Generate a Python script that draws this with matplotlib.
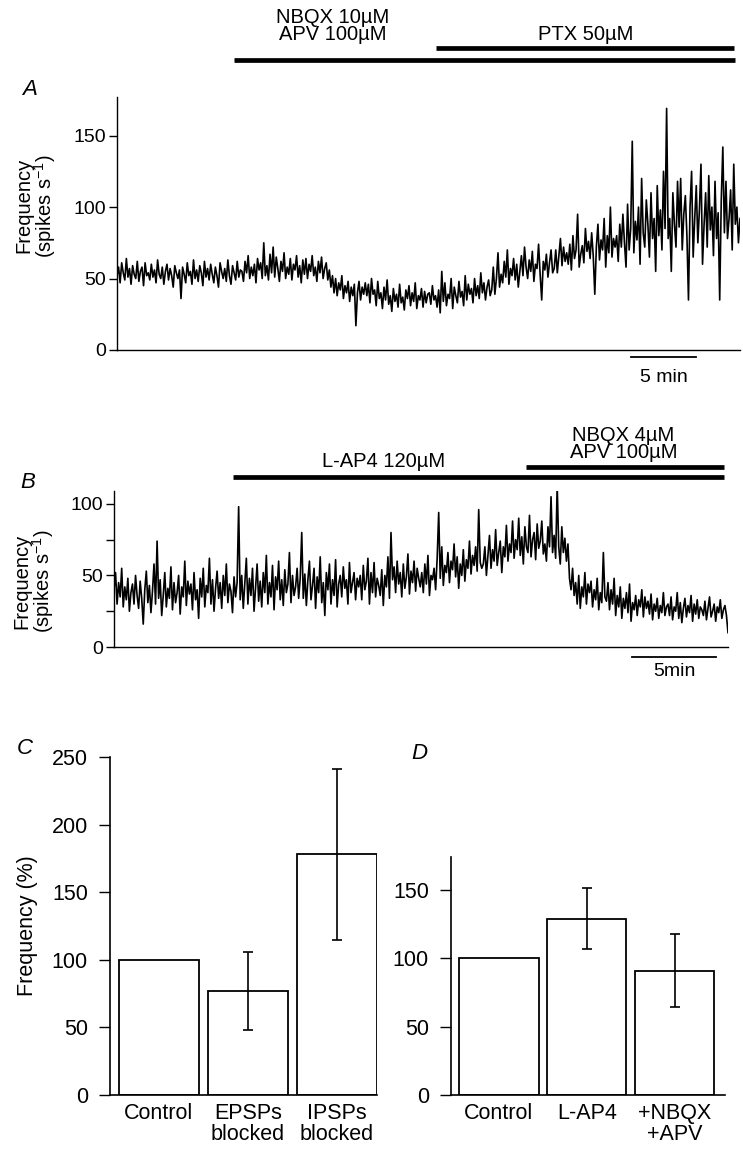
import numpy as np
import matplotlib
matplotlib.use("Agg")
import matplotlib.pyplot as plt

plt.rcParams['font.family'] = ['Liberation Sans', 'DejaVu Sans']
plt.rcParams['mathtext.fontset'] = 'custom'
plt.rcParams['mathtext.rm'] = 'Liberation Sans'
plt.rcParams['mathtext.it'] = 'Liberation Sans:italic'

# firing rate traces (spikes/s), one value per time bin
trace_a = [
    52, 58, 47, 61, 54, 49, 64, 51, 57, 46, 59, 53, 50, 62, 48, 55, 58, 45, 61, 52, 54, 49, 60, 51, 56, 47, 63, 53, 50, 58, 46, 55, 60, 49, 57, 52, 44, 59, 54, 50,
    56, 36, 58, 53, 47, 61, 52, 55, 46, 63, 50, 56, 48, 59, 54, 45, 62, 51, 57, 49, 60, 53, 47, 58, 52, 44, 61, 55, 50, 57, 48, 63, 52, 46, 59, 54, 49, 62, 51, 56,
    55, 48, 62, 54, 66, 50, 58, 52, 60, 47, 64, 56, 61, 50, 75, 52, 59, 49, 67, 54, 72, 51, 65, 57, 48, 62, 55, 68, 50, 58, 53, 64, 49, 60, 56, 66, 51, 59, 47, 63,
    53, 64, 50, 60, 55, 66, 52, 58, 48, 62, 54, 65, 50, 57, 61, 49, 56, 44, 52, 40, 50, 38, 47, 42, 52, 36, 45, 40, 48, 34, 44, 38, 46, 17, 40, 48, 35, 44, 39, 47,
    38, 46, 33, 50, 39, 42, 31, 48, 36, 40, 29, 44, 35, 49, 32, 38, 27, 43, 34, 39, 30, 46, 33, 37, 28, 42, 36, 45, 31, 40, 34, 47, 29, 38, 35, 43, 30, 41, 33, 39,
    40, 32, 45, 35, 38, 30, 42, 26, 55, 34, 47, 31, 39, 36, 50, 29, 44, 38, 33, 48, 37, 41, 31, 52, 35, 46, 39, 43, 33, 50, 38, 45, 36, 54, 40, 47, 35, 44, 49, 38,
    42, 58, 39, 50, 68, 44, 53, 47, 62, 51, 70, 46, 57, 52, 64, 49, 60, 44, 55, 66, 52, 72, 58, 50, 63, 55, 69, 48, 60, 57, 74, 53, 35, 62, 56, 67, 51, 61, 70, 54,
    57, 70, 54, 66, 78, 59, 72, 62, 68, 60, 74, 56, 80, 64, 70, 95, 58, 67, 73, 61, 85, 69, 76, 64, 82, 66, 39, 72, 88, 63, 77, 70, 92, 58, 80, 68, 100, 65, 78, 72,
    80, 62, 88, 72, 95, 75, 58, 102, 70, 85, 146, 68, 90, 77, 100, 60, 120, 82, 72, 105, 88, 65, 110, 78, 92, 55, 115, 80, 98, 70, 125, 85, 169, 78, 92, 55, 110, 88, 72, 118,
    86, 120, 70, 95, 108, 80, 35, 100, 125, 65, 92, 115, 75, 98, 130, 60, 88, 110, 72, 122, 84, 100, 66, 118, 78, 96, 35, 105, 142, 82, 118, 78, 92, 112, 70, 130, 88, 100, 75, 92,
]
trace_b = [
    40, 52, 30, 45, 35, 55, 28, 42, 33, 48, 25, 38, 44, 30, 50, 36, 27, 46, 34, 16, 40, 53, 31, 43, 24, 39, 58, 30, 74, 34, 47, 22, 36, 52, 28, 41, 34, 56, 26, 45,
    31, 38, 50, 23, 42, 35, 60, 29, 46, 37, 44, 26, 52, 33, 40, 20, 48, 35, 55, 28, 43, 38, 62, 30, 47, 25, 41, 53, 34, 45, 27, 50, 36, 58, 31, 44, 39, 24, 49, 35,
    45, 98, 33, 50, 27, 44, 62, 30, 48, 36, 55, 25, 41, 58, 32, 46, 28, 52, 38, 64, 30, 45, 35, 57, 26, 49, 40, 60, 33, 47, 29, 54, 38, 44, 66, 31, 50, 36, 42, 55,
    34, 48, 80, 34, 51, 29, 47, 60, 33, 43, 55, 27, 49, 38, 63, 31, 45, 22, 52, 40, 58, 30, 47, 36, 61, 28, 44, 50, 35, 56, 41, 47, 30, 59, 38, 45, 52, 33, 48, 42,
    50, 33, 57, 40, 46, 62, 30, 52, 38, 59, 35, 48, 43, 36, 54, 29, 50, 42, 63, 34, 80, 47, 56, 38, 60, 44, 52, 35, 58, 41, 49, 65, 37, 53, 45, 60, 39, 55, 48, 42,
    52, 38, 58, 44, 64, 36, 50, 47, 55, 40, 62, 94, 48, 70, 43, 57, 52, 66, 45, 60, 54, 72, 49, 63, 41, 58, 50, 68, 46, 61, 55, 74, 51, 64, 57, 70, 53, 96, 59, 55,
    58, 70, 50, 64, 78, 55, 68, 60, 82, 57, 66, 74, 52, 70, 63, 85, 60, 72, 66, 88, 62, 75, 68, 90, 64, 77, 58, 84, 70, 66, 92, 63, 75, 80, 61, 86, 69, 74, 88, 65,
    72, 60, 84, 70, 105, 66, 78, 62, 113, 70, 58, 84, 66, 76, 60, 72, 48, 40, 55, 36, 45, 30, 50, 27, 42, 35, 52, 30, 44, 38, 46, 28, 40, 33, 48, 26, 38, 31, 66, 35,
    32, 45, 26, 40, 30, 48, 22, 36, 28, 42, 20, 34, 27, 38, 24, 44, 18, 31, 26, 36, 22, 33, 28, 40, 21, 35, 27, 32, 23, 37, 19, 30, 25, 34, 20, 29, 24, 38, 22, 28,
    30, 22, 35, 19, 28, 25, 38, 20, 31, 17, 27, 34, 21, 29, 24, 36, 18, 30, 23, 33, 20, 28, 26, 22, 32, 19, 27, 35, 21, 25, 30, 18, 28, 24, 33, 20, 26, 29, 22, 10,
]
bin_a = 0.12  # min per bin
bin_b = 0.0915

# bar charts (% of control, mean and error)
cats_c = ["Control", "EPSPs\nblocked", "IPSPs\nblocked"]
vals_c = [100, 77, 178]
err_c = [0, 29, 63]
cats_d = ["Control", "L-AP4", "+NBQX\n+APV"]
vals_d = [100, 129, 91]
err_d = [0, 22, 27]

W, H = 743, 1155
fig = plt.figure(figsize=(W / 100, H / 100), dpi=100)


def box(l, r, t, b):
    return [l / W, 1 - b / H, (r - l) / W, (b - t) / H]


def trace_axes(ax):
    for s in ['top', 'right']:
        ax.spines[s].set_visible(False)
    ax.spines['left'].set_linewidth(1.0)
    ax.spines['bottom'].set_linewidth(1.0)
    ax.set_xticks([])
    ax.tick_params(axis='y', direction='out', length=6, width=1, labelsize=14, pad=2)
    ax.set_ylabel("Frequency\n(spikes s$^{-1}$)", fontsize=14.5, linespacing=0.95)


# ---- A ----
axA = fig.add_axes(box(117, 740, 97, 350))
ta = np.arange(len(trace_a)) * bin_a
axA.plot(ta, trace_a, color='black', lw=1.2)
axA.set_xlim(0, ta[-1])
axA.set_ylim(0, 177)
axA.set_yticks([0, 50, 100, 150])
trace_axes(axA)
axA.yaxis.set_label_coords(-0.094, 0.57)
axA.plot([9.0, 47.5], [203, 203], color='black', lw=3.4, clip_on=False, solid_capstyle='butt')
axA.plot([24.5, 47.4], [211, 211], color='black', lw=3.4, clip_on=False, solid_capstyle='butt')
axA.text(16.6, 214, "NBQX 10µM\nAPV 100µM", ha='center', va='bottom', fontsize=14.5, linespacing=0.9)
axA.text(36.0, 214, "PTX 50µM", ha='center', va='bottom', fontsize=14.5)
axA.plot([39.5, 44.5], [-5, -5], color='black', lw=1.3, clip_on=False)
axA.text(42.0, -13, "5 min", ha='center', va='top', fontsize=14)
axA.text(-7.3, 182, "A", fontsize=16, style='italic', ha='left', va='center')

# ---- B ----
axB = fig.add_axes(box(114, 728, 491, 647))
tb = np.arange(len(trace_b)) * bin_b
axB.plot(tb, trace_b, color='black', lw=1.2)
axB.set_xlim(0, tb[-1])
axB.set_ylim(0, 109)
axB.set_yticks([0, 50, 100])
axB.set_yticks([25, 75], minor=True)
trace_axes(axB)
axB.tick_params(axis='y', which='minor', direction='out', length=6, width=1)
axB.yaxis.set_label_coords(-0.094, 0.42)
axB.plot([7.1, 36.3], [119, 119], color='black', lw=3.4, clip_on=False, solid_capstyle='butt')
axB.plot([24.5, 36.3], [126, 126], color='black', lw=3.4, clip_on=False, solid_capstyle='butt')
axB.text(16.0, 123, "L-AP4 120µM", ha='center', va='bottom', fontsize=14.5)
axB.text(30.3, 129, "NBQX 4µM\nAPV 100µM", ha='center', va='bottom', fontsize=14.5, linespacing=0.9)
axB.plot([30.8, 35.8], [-7, -7], color='black', lw=1.3, clip_on=False)
axB.text(33.3, -11, "5min", ha='center', va='top', fontsize=14)
axB.text(-5.6, 115, "B", fontsize=16, style='italic', ha='left', va='center')


def bar_axes(ax, cats, vals, err, xlim, ylim, ticks):
    x = np.arange(len(cats))
    ax.bar(x, vals, width=0.9, color='white', edgecolor='black', linewidth=1.3)
    ax.errorbar(x[1:], vals[1:], yerr=err[1:], fmt='none', ecolor='black',
                elinewidth=1.2, capsize=3.5, capthick=1.2)
    ax.set_xlim(*xlim)
    ax.set_ylim(*ylim)
    ax.set_yticks(ticks)
    ax.set_xticks(x)
    ax.set_xticklabels(cats, fontsize=15.5, linespacing=0.95)
    for s in ['top', 'right']:
        ax.spines[s].set_visible(False)
    ax.spines['left'].set_linewidth(1.2)
    ax.spines['bottom'].set_linewidth(1.2)
    ax.tick_params(axis='x', length=0, pad=6)
    ax.tick_params(axis='y', direction='out', length=8, width=1, labelsize=15.5, pad=8)


# ---- C ----
axC = fig.add_axes(box(110, 377, 757, 1095))
bar_axes(axC, cats_c, vals_c, err_c, (-0.55, 2.45), (0, 250), [0, 50, 100, 150, 200, 250])
axC.set_ylabel("Frequency (%)", fontsize=15.5, labelpad=10)
axC.text(-1.6, 256, "C", fontsize=16, style='italic', ha='left', va='center')

# ---- D ----
axD = fig.add_axes(box(451, 725, 857, 1095))
bar_axes(axD, cats_d, vals_d, err_d, (-0.545, 2.57), (0, 174), [0, 50, 100, 150])
axD.text(-1.0, 250, "D", fontsize=16, style='italic', ha='left', va='center')

fig.savefig("out.png", dpi=100)
